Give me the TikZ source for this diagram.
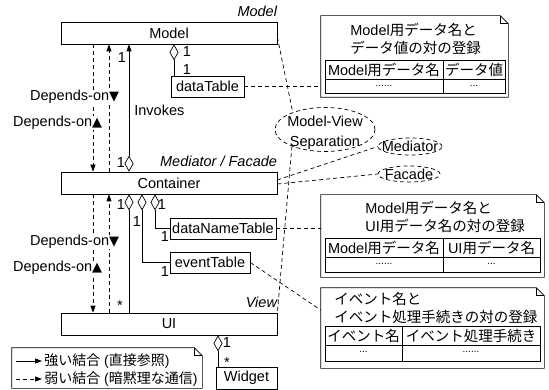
\documentclass[tikz,border=0pt]{standalone}
\usepackage{fontspec}
\setmainfont{Liberation Sans}
\newfontfamily\jpfont{Noto Sans CJK JP}
\newfontfamily\symfont{DejaVu Sans}
\newcommand\J[1]{{\jpfont #1}}
\newcommand\dnmark{{\symfont\fontsize{13}{13}\selectfont ▼}}
\newcommand\upmark{{\symfont\fontsize{13}{13}\selectfont ▲}}
\usetikzlibrary{arrows.meta,shapes.geometric}

% UML note outline with a folded corner
\newcommand\noteoutline[1]{%
  \draw (#1.north west) -- ([xshift=-8pt]#1.north east) -- ([yshift=-8pt]#1.north east)
        -- (#1.south east) -- (#1.south west) -- cycle;
  \draw ([xshift=-8pt]#1.north east) -- ([xshift=-8pt,yshift=-8pt]#1.north east)
        -- ([yshift=-8pt]#1.north east);}

\begin{document}
\begin{tikzpicture}[x=1pt,y=-1pt,line width=0.7pt,
  font=\fontsize{14.5}{17}\selectfont,
  cls/.style={draw,minimum height=22pt,inner sep=0pt},
  tbl/.style={draw,minimum height=21pt,inner sep=0pt},
  notearea/.style={minimum width=#1,inner sep=0pt},
  dep/.style={dash pattern=on 4pt off 3pt,-{Triangle[length=7pt,width=5pt]}},
  invoke/.style={{Diamond[open,length=16pt,width=9pt]}-{Triangle[length=7pt,width=5pt]}},
  agg/.style={{Diamond[open,length=16pt,width=9pt]}-},
  link/.style={dash pattern=on 4pt off 3pt},
  stereo/.style={font=\fontsize{14.5}{17}\selectfont\itshape,anchor=base east,inner sep=0pt},
  mult/.style={inner sep=0pt},
  dlabel/.style={anchor=east,inner sep=0.5pt,fill=white},
  bubble/.style={ellipse,draw,dash pattern=on 4pt off 3pt,inner sep=0pt},
  notetext/.style={anchor=west,align=left,inner sep=0pt,font=\fontsize{14.5}{18}\selectfont},
  dots/.style={inner sep=0pt,font=\fontsize{10}{10}\selectfont},
  legendtext/.style={anchor=west,inner sep=0pt,font=\fontsize{14}{17}\selectfont}]
\useasboundingbox (0,0) rectangle (549,390);

% classes
\node[cls,minimum width=216pt] (model) at (169,33) {Model};
\node[cls,minimum width=216pt] (cont) at (169,183) {Container};
\node[cls,minimum width=216pt] (ui) at (169,324) {UI};
\node[cls,minimum width=61pt] (widget) at (246.5,378) {Widget};
\node[tbl,minimum width=73pt] (dt) at (207.5,86.5) {dataTable};
\node[tbl,minimum width=106pt] (dnt) at (223,228.5) {dataNameTable};
\node[tbl,minimum width=80pt] (et) at (210,262.5) {eventTable};

% stereotypes
\node[stereo] (stm) at ([yshift=5pt]model.north east) {Model};
\node[stereo] (stc) at ([yshift=5pt]cont.north east) {Mediator / Facade};
\node[stereo] (stv) at ([yshift=5pt]ui.north east) {View};

% dependencies between layers
\draw[dep] ([xshift=-76pt]model.south) -- ([xshift=-76pt]cont.north);
\draw[dep] ([xshift=-60pt]cont.north) -- ([xshift=-60pt]model.south);
\draw[dep] ([xshift=-76pt]cont.south) -- ([xshift=-76pt]ui.north);
\draw[dep] ([xshift=-60pt]ui.north) -- ([xshift=-60pt]cont.south);
\node[dlabel] (d1) at (120,97) {Depends-on\dnmark};
\node[dlabel] (d2) at (103,123) {Depends-on\upmark};
\node[dlabel] (d3) at (120,242) {Depends-on\dnmark};
\node[dlabel] (d4) at (103,268) {Depends-on\upmark};

% Container invokes Model
\draw[invoke] ([xshift=-40pt]cont.north) -- ([xshift=-40pt]model.south);
\node[anchor=west,inner sep=0pt] (inv) at (134,110) {Invokes};
\node[mult] at (122,58) {1};
\node[mult] at (121,163) {1};

% Model owns dataTable
\coordinate (ma) at ([xshift=5pt]model.south);
\draw[agg] (ma) -- (ma |- dt.north);
\node[mult] at (187,52) {1};
\node[mult] at (187,70) {1};

% Container aggregations
\coordinate (c1) at ([xshift=-40pt]cont.south);
\coordinate (c2) at ([xshift=-27pt]cont.south);
\coordinate (c3) at ([xshift=-14pt]cont.south);
\draw[agg] (c1) -- (c1 |- ui.north);
\draw[agg] (c2) |- (et.west);
\draw[agg] (c3) |- (dnt.west);
\node[mult] at (121,205) {1};
\node[mult] at (162,205) {1};
\node[mult] at (137,222) {1};
\node[mult] at (165,237) {1};
\node[mult] at (165,272) {1};
\node[mult] at (120,306) {*};

% UI owns Widgets
\coordinate (u1) at ([xshift=49pt]ui.south);
\draw[agg] (u1) -- (u1 |- widget.north);
\node[mult] at (227,343) {1};
\node[mult] at (227,363) {*};

% pattern bubbles
\node[bubble,minimum width=100pt,minimum height=44pt,
      label={[align=center,inner sep=0pt,font=\fontsize{14.5}{20}\selectfont,yshift=-3pt]center:Model-View\\Separation}] (mvs) at (325,129.5) {};
\node[bubble,minimum width=64pt,minimum height=17pt,label={[inner sep=0pt]center:Mediator}] (med) at (410,146.5) {};
\node[bubble,minimum width=62pt,minimum height=16pt,label={[inner sep=0pt]center:Facade}] (fac) at (409,174) {};
\draw[link] ([yshift=-4pt]model.east) -- (mvs.152);
\draw[link] (mvs.207) -- (ui.north east);
\draw[link] ([yshift=3pt]cont.east) -- (med.west);
\draw[link] ([yshift=-1pt]cont.east) -- (fac.west);

% note: dataTable
\node[notearea=187pt,minimum height=81pt] (n1) at (414.5,56.5) {};
\noteoutline{n1}
\node[notetext] at (350,39) {Model\J{用データ名と}\\\J{データ値の対の登録}};
\draw (325,60) rectangle (505,93);
\draw (325,79) -- (505,79);
\draw (443,60) -- (443,93);
\node[inner sep=0pt] at (384,69.5) {Model\J{用データ名}};
\node[inner sep=0pt] at (474,69.5) {\J{データ値}};
\node[dots] at (384,86) {......};
\node[dots] at (474,86) {...};
\draw[link] (dt.east) -- (n1.west |- dt.east);

% note: dataNameTable
\node[notearea=223pt,minimum height=82pt] (n2) at (432.5,236) {};
\noteoutline{n2}
\node[notetext] at (365,216.5) {Model\J{用データ名と}\\UI\J{用データ名の対の登録}};
\draw (325,238) rectangle (540,272);
\draw (325,257) -- (540,257);
\draw (443,238) -- (443,272);
\node[inner sep=0pt] at (384,247.5) {Model\J{用データ名}};
\node[inner sep=0pt] at (491.5,247.5) {UI\J{用データ名}};
\node[dots] at (384,264) {......};
\node[dots] at (491.5,264) {...};
\draw[link] (dnt.east) -- (n2.west |- dnt.east);

% note: eventTable
\node[notearea=223pt,minimum height=80pt] (n3) at (432.5,328) {};
\noteoutline{n3}
\node[notetext] at (334,308) {\J{イベント名と}\\\J{イベント処理手続きの対の登録}};
\draw (325,326) rectangle (540,361);
\draw (325,345) -- (540,345);
\draw (402,326) -- (402,361);
\node[inner sep=0pt] at (363.5,335.5) {\J{イベント名}};
\node[inner sep=0pt] at (471,335.5) {\J{イベント処理手続き}};
\node[dots] at (363.5,352) {...};
\node[dots] at (471,352) {......};
\draw[link] (et.east) -- ([yshift=18pt]n3.west);

% legend
\node[notearea=190pt,minimum height=40pt] (lg) at (107,368) {};
\noteoutline{lg}
\coordinate (la1) at (16,361);
\coordinate (lb1) at (42,361);
\coordinate (la2) at (16,379);
\coordinate (lb2) at (42,379);
\draw[-{Triangle[length=7pt,width=5pt]}] (la1) -- (lb1);
\draw[dep] (la2) -- (lb2);
\node[legendtext] at (44,361) {\J{強い結合} (\J{直接参照})};
\node[legendtext] at (44,379) {\J{弱い結合} (\J{暗黙理な通信})};
\end{tikzpicture}
\end{document}
